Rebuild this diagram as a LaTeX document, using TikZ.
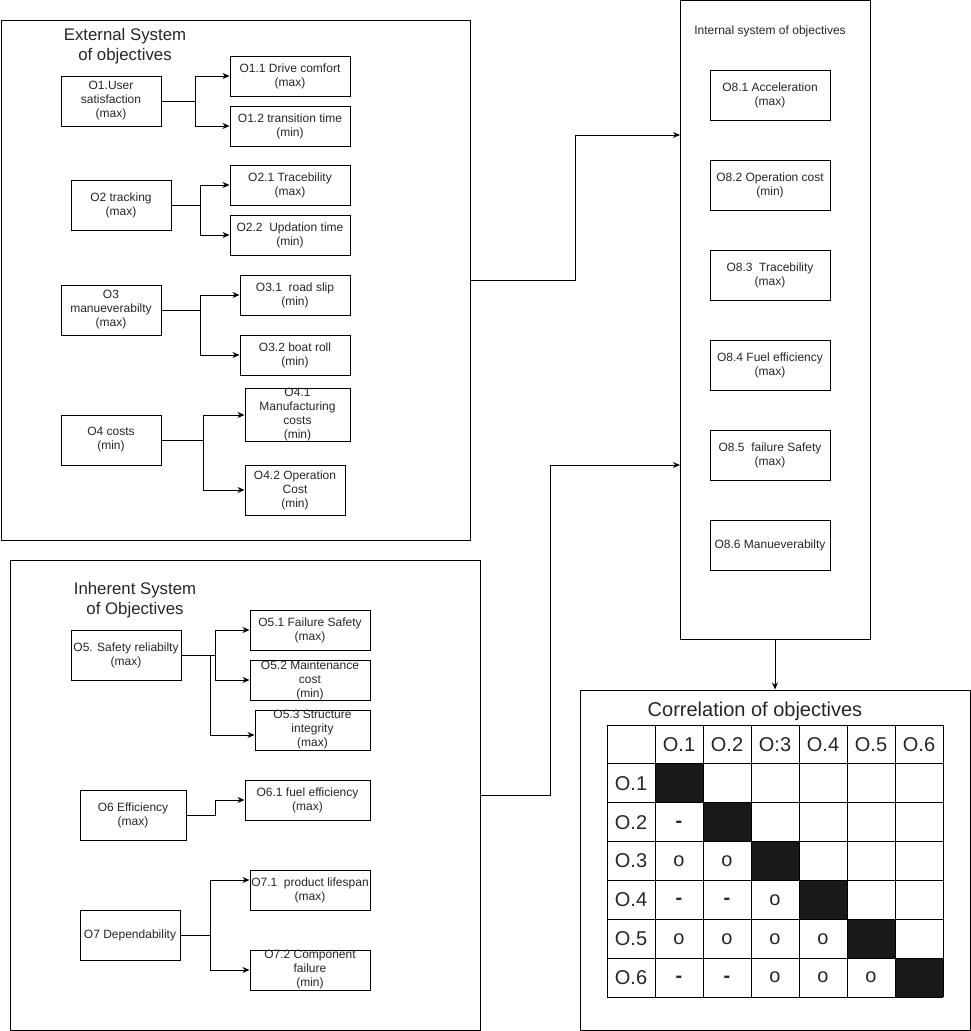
\documentclass[tikz,border=0pt]{standalone}
\usepackage{fontspec}
\setmainfont{Liberation Sans}
\usetikzlibrary{calc, arrows.meta}

\tikzset{
	objective/.style = {draw, align = center, inner sep = 0pt, minimum height = 40pt, font = \fontsize{12}{14}\selectfont, text = black!85},
	system frame/.style = {draw, inner sep = 0pt},
	heading/.style = {align = center, font = \fontsize{16.8}{20}\selectfont, text = black!85},
	cell/.style = {font = \fontsize{20}{24}\selectfont, text = black!85},
	branch/.style = {-{Stealth[length = 7pt, width = 6pt]}}
}

\begin{document}
\begin{tikzpicture}[x = 1pt, y = -1pt, line width = 1pt]
		\useasboundingbox (0,0) rectangle (971,1031);
		
		\def\cw{48};
		\def\rh{38.86};
		\def\dash{\raisebox{-5pt}[0pt][0pt]{\textbf{-}}};
		
		%system frames
		\node [system frame, minimum width = 469pt, minimum height = 520pt] (external system) at (235.5,280) {};
		\node [system frame, minimum width = 470pt, minimum height = 470pt] (inherent system) at (245,795) {};
		\node [system frame, minimum width = 190pt, minimum height = 639pt] (internal system) at (775,320) {};
		\node [system frame, minimum width = 390pt, minimum height = 340pt] (correlation) at (775,860) {};
		
		%external system
		\node [heading] (external title) at (125,46) {External System\\of objectives};
		
		\node [objective, minimum width = 100pt, minimum height = 50pt] (user satisfaction) at (111,101) {O1.User\\satisfaction\\(max)};
		\node [objective, minimum width = 120pt] (drive comfort) at (290,76) {O1.1 Drive comfort\\(max)};
		\node [objective, minimum width = 120pt] (transition time) at (290,126) {O1.2 transition time\\(min)};
		\coordinate (o1 split) at (195,101);
		\draw (user satisfaction.east) -- (o1 split);
		\draw [branch] (o1 split) |- (drive comfort);
		\draw [branch] (o1 split) |- (transition time);
		
		\node [objective, minimum width = 100pt, minimum height = 50pt] (tracking) at (121,205) {O2 tracking\\(max)};
		\node [objective, minimum width = 120pt] (tracebility) at (290,185) {O2.1 Tracebility\\(max)};
		\node [objective, minimum width = 120pt] (updation time) at (290,235) {O2.2\ \ Updation time\\(min)};
		\coordinate (o2 split) at (200,205);
		\draw (tracking.east) -- (o2 split);
		\draw [branch] (o2 split) |- (tracebility);
		\draw [branch] (o2 split) |- (updation time);
		
		\node [objective, minimum width = 100pt, minimum height = 50pt] (manueverability) at (111,310) {O3\\manueverabilty\\(max)};
		\node [objective, minimum width = 110pt] (road slip) at (295,295) {O3.1\ \ road slip\\(min)};
		\node [objective, minimum width = 110pt] (boat roll) at (295,355) {O3.2 boat roll\\(min)};
		\coordinate (o3 split) at (200,310);
		\draw (manueverability.east) -- (o3 split);
		\draw [branch] (o3 split) |- (road slip);
		\draw [branch] (o3 split) |- (boat roll);
		
		\node [objective, minimum width = 100pt, minimum height = 50pt] (costs) at (111,440) {O4 costs\\(min)};
		\node [objective, minimum width = 105pt, minimum height = 50pt] (manufacturing costs) at (297.5,415) {O4.1\\Manufacturing\\costs\\(min)};
		\node [objective, minimum width = 100pt, minimum height = 50pt] (operation cost) at (295,490) {O4.2 Operation\\Cost\\(min)};
		\coordinate (o4 split) at (203,440);
		\draw (costs.east) -- (o4 split);
		\draw [branch] (o4 split) |- (manufacturing costs);
		\draw [branch] (o4 split) |- (operation cost);
		
		%inherent system
		\node [heading] (inherent title) at (135,600) {Inherent System\\of Objectives};
		
		\node [objective, minimum width = 110pt, minimum height = 50pt] (safety reliability) at (126,655) {O5. Safety reliabilty\\(max)};
		\node [objective, minimum width = 120pt] (failure safety) at (310,630) {O5.1 Failure Safety\\(max)};
		\node [objective, minimum width = 120pt] (maintenance cost) at (310,680) {O5.2 Maintenance\\cost\\(min)};
		\node [objective, minimum width = 115pt] (structure integrity) at (312.5,730) {O5.3 Structure\\integrity\\(max)};
		\coordinate (o5 split) at (215,655);
		\coordinate (o5 lower split) at (210,655);
		\draw (safety reliability.east) -- (o5 split);
		\draw [branch] (o5 split) |- (failure safety);
		\draw [branch] (o5 split) |- (maintenance cost);
		\draw [branch] (o5 lower split) |- ($ (structure integrity.west) + (0,5) $);
		
		\node [objective, minimum width = 106pt, minimum height = 50pt] (efficiency) at (133,815) {O6 Efficiency\\(max)};
		\node [objective, minimum width = 125pt] (fuel efficiency) at (307.5,800) {O6.1 fuel efficiency\\(max)};
		\coordinate (o6 split) at (215,815);
		\draw [branch] (efficiency.east) -- (o6 split) |- (fuel efficiency);
		
		\node [objective, minimum width = 100pt, minimum height = 50pt] (dependability) at (130,935) {O7 Dependability};
		\node [objective, minimum width = 120pt] (product lifespan) at (310,890) {O7.1\ \ product lifespan\\(max)};
		\node [objective, minimum width = 120pt] (component failure) at (310,970) {O7.2 Component\\failure\\(min)};
		\coordinate (o7 split) at (210,935);
		\draw (dependability.east) -- (o7 split);
		\draw [branch] (o7 split) |- ($ (product lifespan.west) + (0,-10) $);
		\draw [branch] (o7 split) |- (component failure);
		
		%internal system
		\node [font = \fontsize{12}{14}\selectfont, text = black!85] (internal title) at (770,31) {Internal system of objectives};
		
		\node [objective, minimum width = 120pt, minimum height = 50pt] (acceleration) at (770,95) {O8.1 Acceleration\\(max)};
		\node [objective, minimum width = 120pt, minimum height = 50pt] (internal operation cost) at (770,185) {O8.2 Operation cost\\(min)};
		\node [objective, minimum width = 120pt, minimum height = 50pt] (internal tracebility) at (770,275) {O8.3\ \ Tracebility\\(max)};
		\node [objective, minimum width = 120pt, minimum height = 50pt] (internal fuel efficiency) at (770,365) {O8.4 Fuel efficiency\\(max)};
		\node [objective, minimum width = 120pt, minimum height = 50pt] (internal failure safety) at (770,455) {O8.5\ \ failure Safety\\(max)};
		\node [objective, minimum width = 120pt, minimum height = 50pt] (internal manueverability) at (770,545) {O8.6 Manueverabilty};
		
		%links between systems
		\coordinate (internal upper input) at (680,135);
		\coordinate (internal lower input) at (680,465);
		\draw [branch] (external system.east) -- ++(105,0) |- (internal upper input);
		\draw [branch] (inherent system.east) -- ++(70,0) |- (internal lower input);
		\draw [branch] (internal system.south) -- (correlation.north);
		
		%correlation table
		\node [cell] (correlation title) at (755,711) {Correlation of objectives};
		\coordinate (table corner) at (607,725);
		
		\foreach \k in {1,...,6}
			\fill [black!90] ($ (table corner) + ({\k*\cw},{\k*\rh}) $) rectangle ++(\cw,\rh);
		\foreach \k in {0,...,7} {
			\draw ($ (table corner) + ({\k*\cw},0) $) -- ++(0,{7*\rh});
			\draw ($ (table corner) + (0,{\k*\rh}) $) -- ++({7*\cw},0);
		}
		
		\foreach \k/\lab in {1/O.1, 2/O.2, 3/O:3, 4/O.4, 5/O.5, 6/O.6}
			\node [cell] (head \k) at ($ (table corner) + ({(\k+0.5)*\cw},{0.5*\rh}) $) {\lab};
		\foreach \k in {1,...,6}
			\node [cell] (row \k) at ($ (table corner) + ({0.5*\cw},{(\k+0.5)*\rh}) $) {O.\k};
		\foreach \c/\r/\v in {1/2/\dash, 1/3/o, 2/3/o, 1/4/\dash, 2/4/\dash, 3/4/o, 1/5/o, 2/5/o, 3/5/o, 4/5/o, 1/6/\dash, 2/6/\dash, 3/6/o, 4/6/o, 5/6/o}
			\node [cell] (entry \c\r) at ($ (table corner) + ({(\c+0.5)*\cw},{(\r+0.5)*\rh}) $) {\v};
	\end{tikzpicture}
\end{document}
